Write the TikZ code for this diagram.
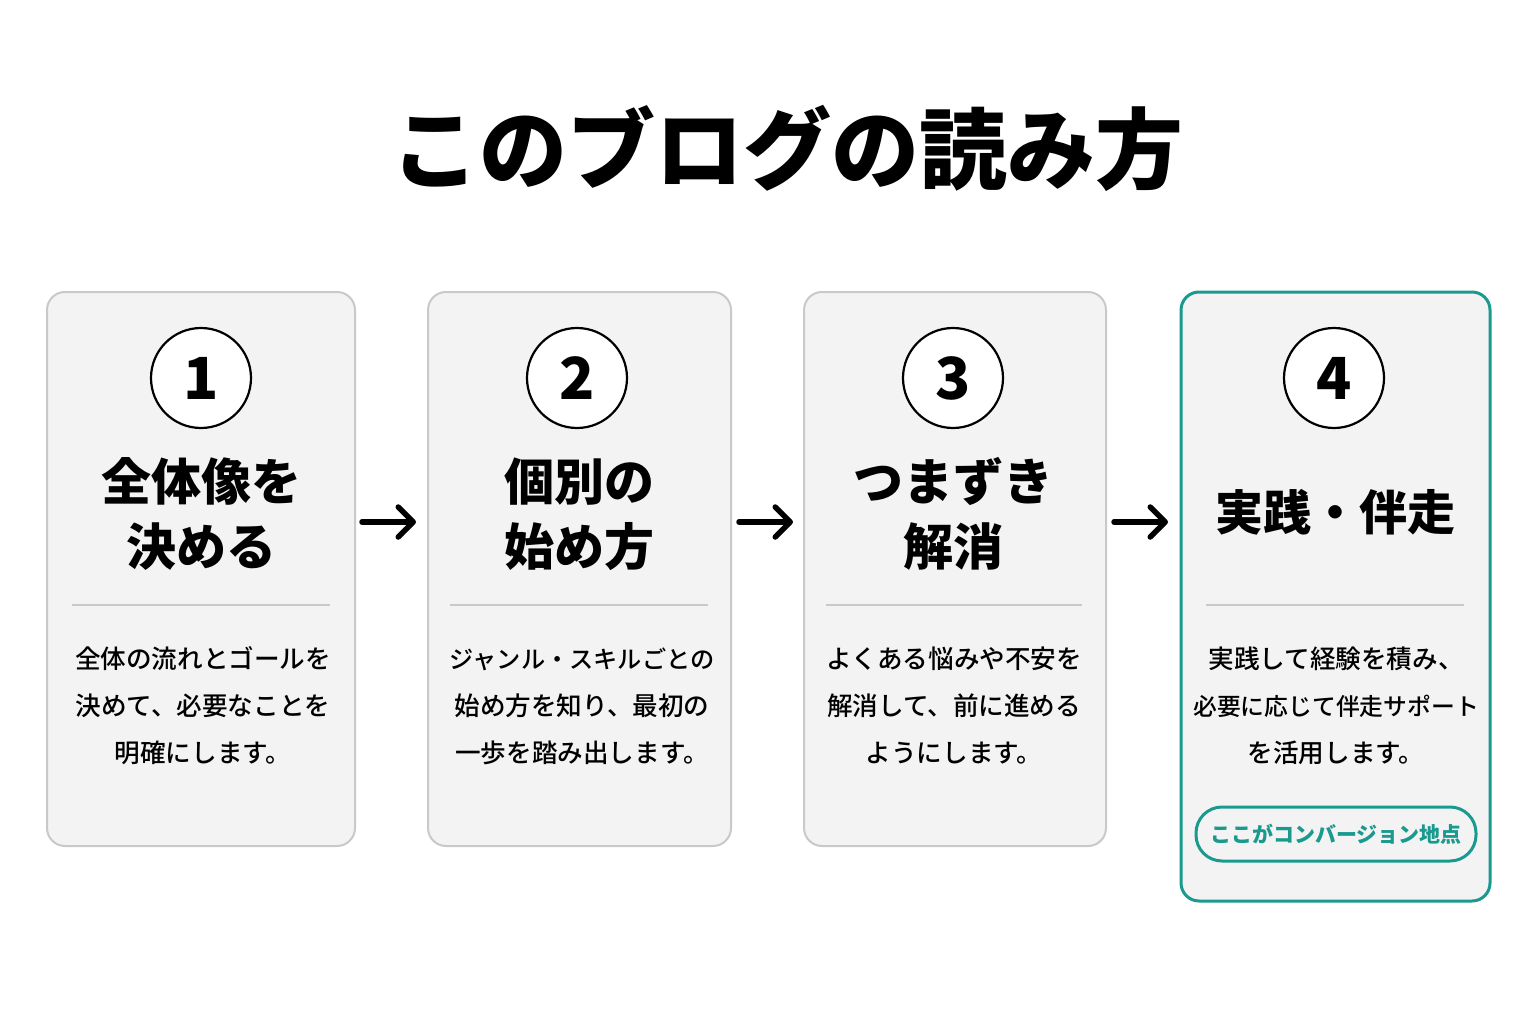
\documentclass[tikz,border=0pt]{standalone}
\usepackage{fontspec}
\usetikzlibrary{arrows.meta}
\setmainfont{Noto Sans CJK JP}
\newfontfamily\jpmed{Noto Sans CJK JP}[UprightFont={* Medium}]
\definecolor{teal1}{HTML}{1A9A8F}
\definecolor{cardfill}{HTML}{F3F3F3}
\definecolor{cardline}{HTML}{C9C9C9}
\begin{document}
\begin{tikzpicture}[x=1pt,y=-1pt,
  card/.style={draw=cardline,line width=2pt,fill=cardfill,rounded corners=18pt},
  hicard/.style={draw=teal1,line width=3pt,fill=cardfill,rounded corners=18pt},
  numcirc/.style={circle,draw=black,line width=2.2pt,fill=white,minimum size=100pt,inner sep=0pt,font=\fontsize{58}{58}\selectfont\bfseries},
  ttl/.style={align=center,font=\fontsize{50}{65}\selectfont\bfseries},
  body/.style={align=center,font=\jpmed\fontsize{25.6}{47}\selectfont},
  divline/.style={draw=cardline,line width=2pt},
  flow/.style={-{Straight Barb[length=15pt,width=30pt,line cap=round,line join=round]},line width=5.5pt,line cap=round},
  pill/.style={draw=teal1,line width=3pt,rounded corners=26pt,minimum width=280pt,minimum height=54pt,text=teal1,font=\fontsize{21}{21}\selectfont\bfseries}
]
\useasboundingbox[fill=white] (0,0) rectangle (1536,1024);
\node[font=\fontsize{88}{88}\selectfont\bfseries] (title) at (787,148) {このブログの読み方};

% cards
\path[card] (47,292) rectangle (355,846);
\path[card] (428,292) rectangle (731,846);
\path[card] (804,292) rectangle (1106,846);
\path[hicard] (1181,292) rectangle (1490,901);

\node[numcirc] (n1) at (201,378) {1};
\node[numcirc] (n2) at (577,378) {2};
\node[numcirc] (n3) at (953,378) {3};
\node[numcirc] (n4) at (1334,378) {4};

\node[ttl] (t1) at (201,514) {全体像を\\決める};
\node[ttl] (t2) at (579,514) {個別の\\始め方};
\node[ttl] (t3) at (953,514) {つまずき\\解消};
\node[ttl,font=\fontsize{48}{65}\selectfont\bfseries] (t4) at (1335,512) {実践・伴走};

\draw[divline] (72,605) -- (330,605);
\draw[divline] (450,605) -- (708,605);
\draw[divline] (826,605) -- (1082,605);
\draw[divline] (1206,605) -- (1464,605);

\node[body] (b1) at (203,706) {全体の流れとゴールを\\決めて、必要なことを\\明確にします。};
\node[body] (b2) at (582,706) {{\fontsize{24.2}{47}\selectfont ジャンル・スキルごとの}\\始め方を知り、最初の\\一歩を踏み出します。};
\node[body] (b3) at (954,706) {よくある悩みや不安を\\解消して、前に進める\\ようにします。};
\node[body] (b4) at (1336,706) {実践して経験を積み、\\{\fontsize{23.8}{47}\selectfont 必要に応じて伴走サポート}\\を活用します。};

\node[pill] (cv) at (1336,834) {ここがコンバージョン地点};

\coordinate (a1s) at (362,522); \coordinate (a1e) at (416,522);
\coordinate (a2s) at (739,522); \coordinate (a2e) at (793,522);
\coordinate (a3s) at (1114,522); \coordinate (a3e) at (1168,522);
\draw[flow] (a1s) -- (a1e);
\draw[flow] (a2s) -- (a2e);
\draw[flow] (a3s) -- (a3e);
\end{tikzpicture}
\end{document}
